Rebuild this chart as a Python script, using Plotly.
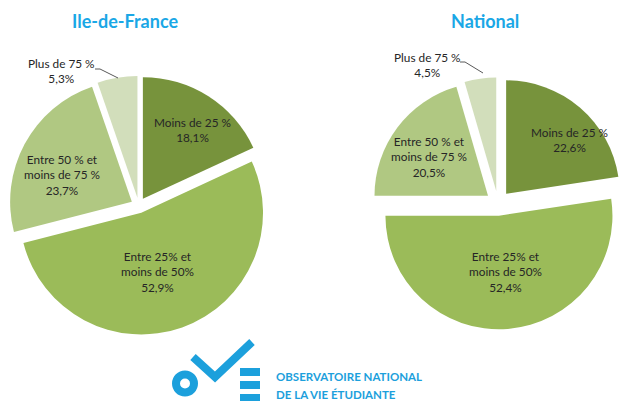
import plotly.graph_objects as go

W, H = 624, 401

# Share of study time per category, two populations
categories = [
    "Moins de 25 %",
    "Entre 25% et<br>moins de 50%",
    "Entre 50 % et<br>moins de 75 %",
    "Plus de 75 %",
]
idf_values = [18.1, 52.9, 23.7, 5.3]
national_values = [22.6, 52.4, 20.5, 4.5]
panel_titles = ["Ile-de-France", "National"]

slice_colors = ["#77933C", "#9BBB59", "#B0C882", "#D2DEBB"]
title_blue = "#1AA7E6"
logo_blue = "#1CA0DC"
label_font = dict(family="Lato, Open Sans, sans-serif", size=11.8, color="#262626")


def fx(x):
    return x / W


def fy(y):
    return 1 - y / H


def fmt(label, value):
    return f"{label}<br>{value:.1f}%".replace(".", ",")


fig = go.Figure()

# Left pie (Ile-de-France)
fig.add_trace(go.Pie(
    labels=categories, values=idf_values, sort=False, direction="clockwise",
    rotation=0, pull=[0.064] * 4, textinfo="none",
    marker=dict(colors=slice_colors, line=dict(width=0)),
    domain=dict(x=[fx(9.2), fx(268.2)], y=[fy(334.9), fy(75.9)]),
    showlegend=False,
))

# Right pie (National)
fig.add_trace(go.Pie(
    labels=categories, values=national_values, sort=False, direction="clockwise",
    rotation=0, pull=[0.11] * 4, textinfo="none",
    marker=dict(colors=slice_colors, line=dict(width=0)),
    domain=dict(x=[fx(372), 1.0], y=[fy(329.3), fy(77.3)]),
    showlegend=False,
))

annotations = []

# Panel titles
for title, x in zip(panel_titles, [124.5, 484.5]):
    annotations.append(dict(
        text=f"<b>{title}</b>", x=fx(x), y=fy(21), xref="paper", yref="paper",
        showarrow=False, xanchor="center", yanchor="middle",
        font=dict(family="Lato, Open Sans, sans-serif", size=18, color=title_blue),
    ))

# Slice labels
idf_pos = [(192, 130), (157, 272), (62, 175), (62, 71)]
nat_pos = [(569, 140), (505, 272), (429, 157), (427, 65)]
for values, positions in [(idf_values, idf_pos), (national_values, nat_pos)]:
    for cat, v, (x, y) in zip(categories, values, positions):
        annotations.append(dict(
            text=fmt(cat, v), x=fx(x), y=fy(y), xref="paper", yref="paper",
            showarrow=False, xanchor="center", yanchor="middle", align="center",
            font=label_font,
        ))

# Logo wordmark
for line, y in [("OBSERVATOIRE NATIONAL", 376.5), ("DE LA VIE ÉTUDIANTE", 394)]:
    annotations.append(dict(
        text=f"<b>{line}</b>", x=fx(274), y=fy(y), xref="paper", yref="paper",
        showarrow=False, xanchor="left", yanchor="middle",
        font=dict(family="Lato, sans-serif", size=11.5, color=logo_blue),
    ))

shapes = []

# Leader lines for the small outer slices
for pts in [[(95, 69), (100, 69), (118, 78)], [(460, 62), (465, 62), (483, 73)]]:
    path = "M " + " L ".join(f"{fx(x)},{fy(y)}" for x, y in pts)
    shapes.append(dict(type="path", path=path, xref="paper", yref="paper",
                       line=dict(color="#595959", width=1)))

# Logo glyphs: ring, check mark and three bars
shapes.append(dict(type="circle", xref="paper", yref="paper",
                   x0=fx(176), x1=fx(194), y0=fy(392.5), y1=fy(374.5),
                   line=dict(color=logo_blue, width=8)))
check = [(193, 357), (215, 377), (252, 342)]
shapes.append(dict(type="path", xref="paper", yref="paper",
                   path="M " + " L ".join(f"{fx(x)},{fy(y)}" for x, y in check),
                   line=dict(color=logo_blue, width=8)))
for y0, y1 in [(368, 376), (381, 389), (394, 401)]:
    shapes.append(dict(type="rect", xref="paper", yref="paper",
                       x0=fx(240), x1=fx(260), y0=fy(y1), y1=fy(y0),
                       fillcolor=logo_blue, line=dict(width=0)))

fig.update_layout(
    width=W, height=H, margin=dict(l=0, r=0, t=0, b=0),
    paper_bgcolor="white", plot_bgcolor="white",
    annotations=annotations, shapes=shapes,
)

fig.write_html("out.html")
